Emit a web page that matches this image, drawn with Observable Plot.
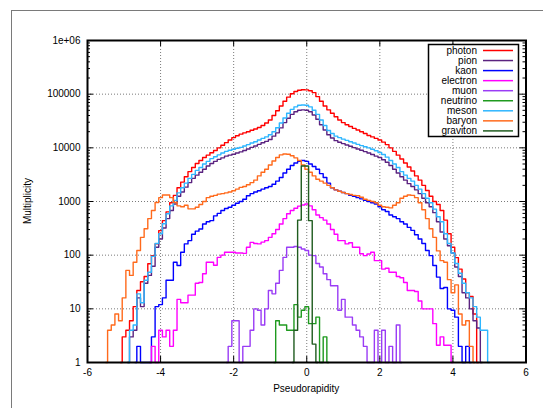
<!DOCTYPE html>
<html><head><meta charset="utf-8">
<script src="https://cdn.jsdelivr.net/npm/d3@7"></script>
<script src="https://cdn.jsdelivr.net/npm/@observablehq/plot@0.6"></script>
<style>
body{margin:0;background:#fff;}
#wrap{position:relative;width:543px;height:408px;overflow:hidden;font-family:"Liberation Sans",Arial,Helvetica,sans-serif;}
#chart{position:absolute;left:0;top:0;}
#border{position:absolute;left:11px;top:10px;width:700px;height:600px;border-top:1px solid #7a7a7a;border-left:1px solid #7a7a7a;z-index:3;}
</style></head><body>
<div id="wrap"><div id="chart"></div><div id="border"></div></div>
<script>
// ---- axis ticks ----
const xTicks = [-6, -4, -2, 0, 2, 4, 6];
const yTicks = [1, 10, 100, 1000, 10000, 100000, 1000000];
const yTickLabels = ["1", "10", "100", "1000", "10000", "100000", "1e+06"];

// ---- series (histogram counts per 0.1 bin of pseudorapidity, first bin centre given) ----
const seriesNames = ["photon", "pion", "kaon", "electron", "muon", "neutrino", "meson", "baryon", "graviton"];
const seriesColors = ["#ff0000", "#5b2380", "#0000ff", "#ff00ff", "#9a3cf5", "#1f9a1f", "#2eb6ff", "#ff6a1c", "#1f5c1f"];

const photonStart = -5.1;
const photon = [
  1, 3, 4, 6, 11, 22, 32, 40, 69, 98,
  162, 287, 440, 640, 950, 1300, 1800, 2300, 2900, 3600,
  4300, 5100, 5800, 6600, 7300, 8100, 8900, 10000, 11200, 12500,
  14000, 15500, 16800, 18000, 19000, 20000, 21300, 22500, 24000, 26000,
  29000, 33000, 40000, 49000, 60000, 74000, 88000, 102000, 112000, 118000,
  121000, 120000, 116000, 107000, 90000, 74000, 60000, 51000, 44000, 38000,
  33000, 29500, 27000, 25000, 23000, 21500, 20000, 18500, 17000, 16000,
  15000, 14000, 12800, 11500, 10000, 8600, 7300, 6200, 5200, 4400,
  3700, 3000, 2500, 2000, 1600, 1250, 1000, 880, 680, 450,
  250, 140, 90, 55, 36, 20, 17, 8, 1
];

const pionStart = -4.9;
const pion = [
  1, 3, 4, 16, 11, 30, 42, 62, 140, 200,
  320, 480, 680, 900, 1250, 1500, 1850, 2250, 2700, 3100,
  3500, 4000, 4600, 5100, 5600, 6100, 6500, 7000, 7300, 7600,
  8000, 8400, 8900, 9500, 10200, 10800, 11600, 12400, 13200, 14300,
  16500, 19000, 23500, 29500, 35500, 42000, 47000, 50000, 51000, 50000,
  47000, 41000, 34000, 27000, 21500, 17500, 15200, 13600, 12700, 12000,
  11300, 10700, 10100, 9500, 9000, 8500, 8000, 7500, 7000, 6600,
  6000, 5400, 4700, 4000, 3400, 2900, 2500, 2150, 1900, 1650,
  1400, 1150, 950, 800, 620, 420, 270, 200, 150, 110,
  60, 40, 20, 16, 10, 6, 4.4, 1
];

const kaonStart = -4.7;
const kaon = [
  1, 2, 1, 1, 1, 3, 11, 12, 16, 34,
  34, 74, 64, 113, 162, 187, 246, 280, 307, 380,
  420, 440, 540, 600, 680, 740, 780, 850, 930, 1000,
  1100, 1280, 1400, 1500, 1590, 1700, 1800, 1900, 2100, 2400,
  2800, 3400, 4000, 4700, 5200, 5600, 5800, 5600, 5000, 4500,
  4000, 3300, 2800, 2200, 1800, 1650, 1550, 1470, 1400, 1300,
  1250, 1180, 1120, 1050, 1000, 950, 900, 800, 700, 650,
  560, 520, 480, 420, 380, 330, 290, 240, 200, 165,
  122, 98, 64, 39, 24, 25, 10, 9.4, 7, 2,
  1, 2, 1
];

const electronStart = -4.3;
const electron = [
  1, 2, 1, 4, 3, 4, 2, 4, 15, 13,
  13, 18, 18, 30, 31, 45, 74, 74, 65, 91,
  100, 113, 113, 113, 110, 110, 108, 140, 173, 165,
  162, 175, 187, 215, 250, 300, 380, 480, 590, 680,
  750, 820, 860, 900, 830, 700, 560, 500, 450, 380,
  300, 246, 187, 187, 162, 170, 140, 140, 106, 98,
  105, 113, 79, 79, 55, 57, 48, 48, 40, 38,
  31, 22, 22, 21, 14, 10, 10, 10, 5.3, 2.1,
  3, 2.1, 2.1, 1
];

const muonStart = -2.2;
const muon = [
  1, 2, 6, 6, 1, 2, 2, 4, 10, 9.4,
  5, 10, 22, 19, 30, 52, 91, 140, 140, 145,
  140, 130, 122, 100, 98, 70, 60, 45, 35, 27,
  27, 9.4, 15, 7, 7, 5, 4, 3, 2, 1,
  1, 4, 1, 4, 1, 2, 1, 5, 1
];

const neutrinoStart = -0.9;
const neutrino = [1, 6, 5, 5, 4, 4, 12, 7, 9.4, 11, 5.3, 5.3, 7, 1, 3, 1];

const mesonStart = -4.9;
const meson = [
  1, 4, 5, 19, 13, 34, 48, 95, 165, 250,
  385, 590, 830, 1050, 1450, 1800, 2200, 2700, 3200, 3800,
  4300, 5000, 5600, 6300, 6800, 7400, 8000, 8600, 9000, 9400,
  9800, 10200, 10800, 11500, 12300, 13000, 14000, 15000, 16000, 17500,
  20000, 23700, 29000, 36000, 44000, 52000, 58000, 62000, 63000, 62000,
  58000, 50000, 42000, 33000, 26000, 21000, 18500, 16500, 15500, 14500,
  13800, 13000, 12300, 11600, 11000, 10500, 10000, 9400, 8800, 8200,
  7500, 6700, 5800, 5000, 4300, 3600, 3100, 2700, 2400, 2000,
  1700, 1400, 1150, 950, 720, 520, 420, 250, 165, 110,
  70, 46, 30, 20, 16, 11, 7, 4, 4, 1
];

const baryonStart = -5.5;
const baryon = [
  1, 4, 5, 8, 6, 16, 52, 42, 74, 122,
  215, 310, 480, 680, 960, 1180, 1320, 1320, 1180, 960,
  830, 800, 850, 730, 730, 780, 880, 1000, 1180, 1250,
  1300, 1370, 1400, 1450, 1500, 1590, 1700, 1830, 1900, 2050,
  2250, 2500, 3000, 3500, 4000, 4800, 5700, 6600, 7400, 7700,
  7600, 7100, 6500, 5800, 4800, 4000, 3500, 3000, 2600, 2400,
  2200, 2000, 1800, 1650, 1550, 1470, 1400, 1350, 1300, 1280,
  1200, 1100, 1050, 1000, 950, 850, 800, 780, 760, 850,
  950, 1150, 1250, 1320, 1300, 1180, 950, 700, 480, 310,
  215, 120, 79, 74, 35, 20, 28, 8, 5, 6,
  2, 1
];

const gravitonStart = -0.4;
const graviton = [1, 4, 450, 4600, 4600, 440, 2.2, 1];

const seriesValues = [photon, pion, kaon, electron, muon, neutrino, meson, baryon, graviton];
const seriesStarts = [photonStart, pionStart, kaonStart, electronStart, muonStart, neutrinoStart, mesonStart, baryonStart, gravitonStart];

const series = seriesNames.map((name, k) => ({
  name, color: seriesColors[k],
  rows: seriesValues[k].map((v, i) => ({eta: Math.round((seriesStarts[k] + i * 0.1) * 10) / 10, count: v}))
}));

// ---- layout ----
const W = 543, H = 408, ml = 87, mr = 17.5, mt = 40, mb = 46;
const innerW = W - ml - mr, innerH = H - mt - mb;
const minorY = [];
for (const d of yTicks.slice(0, -1)) for (let m = 2; m <= 9; m++) minorY.push(d * m);
const yLabelOf = new Map(yTicks.map((t, i) => [t, yTickLabels[i]]));
const gridStyle = {stroke: "#7a7a7a", strokeOpacity: 1, strokeDasharray: "1,2", strokeWidth: 1};

const svg = Plot.plot({
  width: W, height: H,
  marginLeft: ml, marginRight: mr, marginTop: mt, marginBottom: mb,
  style: {fontFamily: '"Liberation Sans", Arial, Helvetica, sans-serif', fontSize: "10px", background: "transparent", color: "#000"},
  x: {domain: [-6, 6]},
  y: {type: "log", domain: [1, 1e6]},
  marks: [
    Plot.gridX(xTicks.slice(1, -1), gridStyle),
    Plot.gridY(yTicks.slice(1, -1), gridStyle),
    ...series.map(s => Plot.line(s.rows, {x: "eta", y: "count", curve: "step", stroke: s.color, strokeWidth: 1.4})),
    Plot.tickY(yTicks, {y: d => d, insetRight: innerW - 6, stroke: "#000"}),
    Plot.tickY(yTicks, {y: d => d, insetLeft: innerW - 6, stroke: "#000"}),
    Plot.tickY(minorY, {y: d => d, insetRight: innerW - 3, stroke: "#000"}),
    Plot.tickY(minorY, {y: d => d, insetLeft: innerW - 3, stroke: "#000"}),
    Plot.tickX(xTicks, {x: d => d, insetTop: innerH - 6, stroke: "#000"}),
    Plot.tickX(xTicks, {x: d => d, insetBottom: innerH - 6, stroke: "#000"}),
    Plot.frame({stroke: "#000", strokeWidth: 2}),
    Plot.axisX({ticks: xTicks, tickSize: 0, tickPadding: 6, tickFormat: d => String(d), label: null}),
    Plot.axisY({ticks: yTicks, tickSize: 0, tickPadding: 7, tickFormat: d => yLabelOf.get(d), label: null})
  ]
});

const sel = d3.select(svg);
sel.append("text").attr("transform", `translate(27,${mt + innerH / 2}) rotate(-90)`)
  .attr("text-anchor", "middle").attr("dy", "0.35em").attr("fill", "#000").text("Multiplicity");
sel.append("text").attr("x", ml + innerW / 2).attr("y", 388)
  .attr("text-anchor", "middle").attr("dy", "0.35em").attr("fill", "#000").text("Pseudorapidity");

// ---- legend (inside the plot, top right) ----
const lg = sel.append("g").attr("class", "legend");
lg.append("rect").attr("x", 428.5).attr("y", 44.5).attr("width", 90).attr("height", 92)
  .attr("fill", "#fff").attr("stroke", "#000").attr("stroke-width", 1.5);
seriesNames.forEach((name, i) => {
  const cy = 50.5 + i * 10.05;
  lg.append("text").attr("x", 477).attr("y", cy).attr("dy", "0.35em")
    .attr("text-anchor", "end").attr("fill", "#000").text(name);
  lg.append("line").attr("x1", 483).attr("x2", 513).attr("y1", cy).attr("y2", cy)
    .attr("stroke", seriesColors[i]).attr("stroke-width", 1.5);
});
document.getElementById("chart").appendChild(svg);
</script>
</body></html>
